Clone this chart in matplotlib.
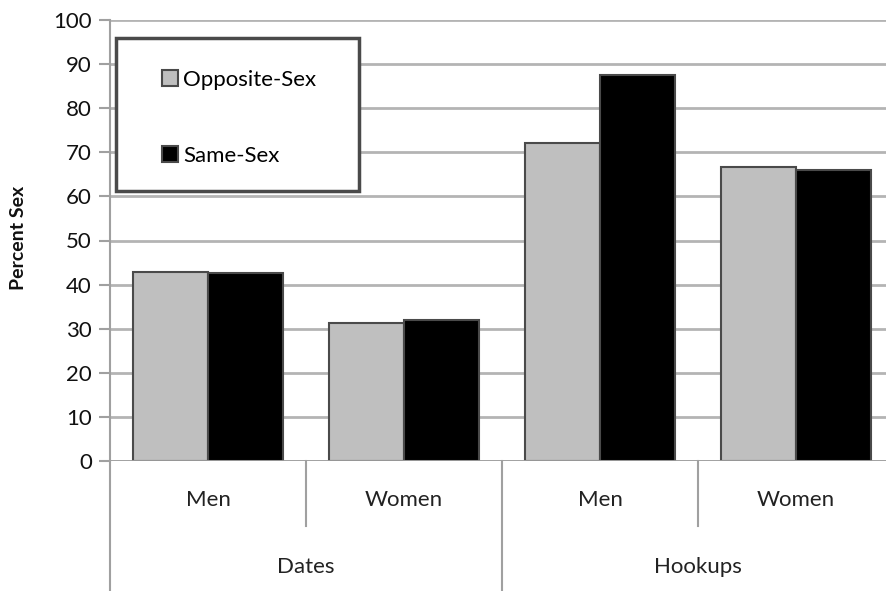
import numpy as np
import matplotlib
matplotlib.use("Agg")
import matplotlib.pyplot as plt
from matplotlib.patches import Rectangle
import matplotlib.transforms as mtransforms

plt.rcParams['font.family'] = ['Lato', 'DejaVu Sans']

## data
groups    = ['Dates', 'Hookups']
subgroups = ['Men', 'Women', 'Men', 'Women']
opposite  = [42.9, 31.3, 72.1, 66.7]
same      = [42.6, 31.9, 87.5, 65.9]
yticks    = [0, 10, 20, 30, 40, 50, 60, 70, 80, 90, 100]

## figure in pixels
W, H = 886, 591
fig = plt.figure(figsize=(W/100, H/100), dpi=100)
left, right, top, bottom = 110, 894, 20, 461
ax = fig.add_axes([left/W, (H-bottom)/H, (right-left)/W, (bottom-top)/H])

x  = np.arange(len(subgroups))
bw = 0.383
ax.bar(x-bw/2, opposite, bw, color='#bfbfbf', edgecolor='#4a4a4a', linewidth=1.5,
       label='Opposite-Sex', zorder=3)
ax.bar(x+bw/2, same, bw, color='black', edgecolor='#4a4a4a', linewidth=1.5,
       label='Same-Sex', zorder=3)

ax.set_xlim(-0.5, len(subgroups)-0.5)
ax.set_ylim(0, 100)
ax.set_yticks(yticks)
ax.tick_params(axis='y', direction='out', length=8, width=1.5, color='#a0a0a0',
               labelsize=16, pad=5, labelcolor='#111111')
ax.set_xticks([])
ax.yaxis.grid(True, color='#b4b4b4', linewidth=2, zorder=0)
for s in ['top', 'right', 'bottom']:
    ax.spines[s].set_visible(False)
ax.spines['left'].set_color('#a0a0a0')
ax.spines['left'].set_linewidth(1.5)
ax.axhline(0, color='#a0a0a0', linewidth=2, zorder=4)

## two-level category axis below the plot
tr = mtransforms.blended_transform_factory(ax.transData, ax.transAxes)
ybot = -(H - bottom)/(bottom - top)
for i in range(len(subgroups)):
    ax.text(x[i], -0.088, subgroups[i], transform=tr, ha='center', va='center',
            fontsize=16, color='#222222')
for b in [0.5, 2.5]:
    ax.plot([b, b], [0, -0.147], transform=tr, color='#a0a0a0', lw=1.5, clip_on=False)
for b in [-0.5, 1.5, 3.5]:
    ax.plot([b, b], [0, ybot], transform=tr, color='#a0a0a0', lw=1.5, clip_on=False)
for j, g in enumerate(groups):
    ax.text(2*j+0.5, -0.240, g, transform=tr, ha='center', va='center',
            fontsize=16, color='#222222')

fig.text(19/W, 1-238/H, 'Percent Sex', rotation=90, ha='center', va='center',
         fontsize=14, fontweight='bold', color='#111111')

## legend box
fig.patches.append(Rectangle((116/W, 1-191/H), (359-116)/W, (191-38)/H,
                             transform=fig.transFigure, facecolor='white',
                             edgecolor='#4a4a4a', linewidth=2.5, zorder=5))
leg = fig.legend(loc='upper left', bbox_to_anchor=(162/W, 1-70/H), frameon=False,
                 fontsize=16, handlelength=0.7, handleheight=0.7,
                 handletextpad=0.25, labelspacing=2.5, borderpad=0,
                 borderaxespad=0)
leg.set_zorder(6)

fig.savefig('out.png', dpi=100)
